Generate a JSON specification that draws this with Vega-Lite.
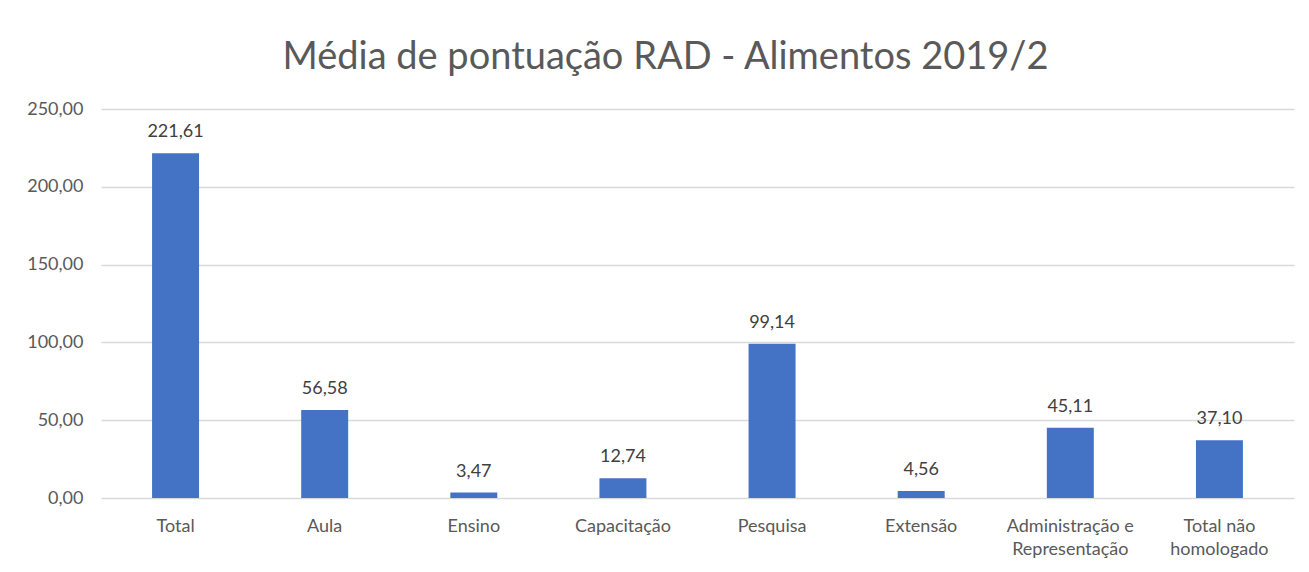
{
  "$schema": "https://vega.github.io/schema/vega-lite/v6.json",
  "autosize": "none",
  "padding": {"left": 101, "top": 109, "right": 15, "bottom": 74},
  "width": 1193,
  "height": 389,
  "background": "white",
  "config": {
    "locale": {"number": {"decimal": ",", "thousands": ".", "grouping": [3], "currency": ["R$", ""]}},
    "view": {"stroke": null},
    "font": "Lato"
  },
  "title": {
    "text": "Média de pontuação RAD - Alimentos 2019/2",
    "font": "Lato",
    "fontSize": 38,
    "fontWeight": "normal",
    "color": "#595959",
    "anchor": "middle",
    "frame": "group",
    "dx": -32,
    "offset": 23
  },
  "data": {
    "values": [
      {"categoria": "Total", "media": 221.61},
      {"categoria": "Aula", "media": 56.58},
      {"categoria": "Ensino", "media": 3.47},
      {"categoria": "Capacitação", "media": 12.74},
      {"categoria": "Pesquisa", "media": 99.14},
      {"categoria": "Extensão", "media": 4.56},
      {"categoria": "Administração e Representação", "media": 45.11},
      {"categoria": "Total não homologado", "media": 37.10}
    ]
  },
  "encoding": {
    "x": {
      "field": "categoria",
      "type": "nominal",
      "sort": null,
      "scale": {"paddingInner": 0.685, "paddingOuter": 0.3425},
      "axis": {
        "title": null,
        "domain": false,
        "ticks": false,
        "labelAngle": 0,
        "labelFont": "Lato",
        "labelFontSize": 18,
        "labelColor": "#595959",
        "labelPadding": 19,
        "labelLineHeight": 23,
        "labelExpr": "datum.value == 'Administração e Representação' ? ['Administração e', 'Representação'] : datum.value == 'Total não homologado' ? ['Total não', 'homologado'] : datum.value"
      }
    },
    "y": {
      "field": "media",
      "type": "quantitative",
      "scale": {"domain": [0, 250], "nice": false},
      "axis": {
        "title": null,
        "values": [0, 50, 100, 150, 200, 250],
        "format": ".2f",
        "domain": false,
        "ticks": false,
        "labelFont": "Lato",
        "labelFontSize": 18,
        "labelColor": "#595959",
        "labelPadding": 18,
        "gridColor": "#d9d9d9",
        "gridWidth": 1.5
      }
    }
  },
  "layer": [
    {"mark": {"type": "bar", "color": "#4472C4"}},
    {
      "mark": {"type": "text", "baseline": "alphabetic", "dy": -16, "font": "Lato", "fontSize": 18, "color": "#404040"},
      "encoding": {"text": {"field": "media", "type": "quantitative", "format": ".2f"}}
    }
  ]
}
